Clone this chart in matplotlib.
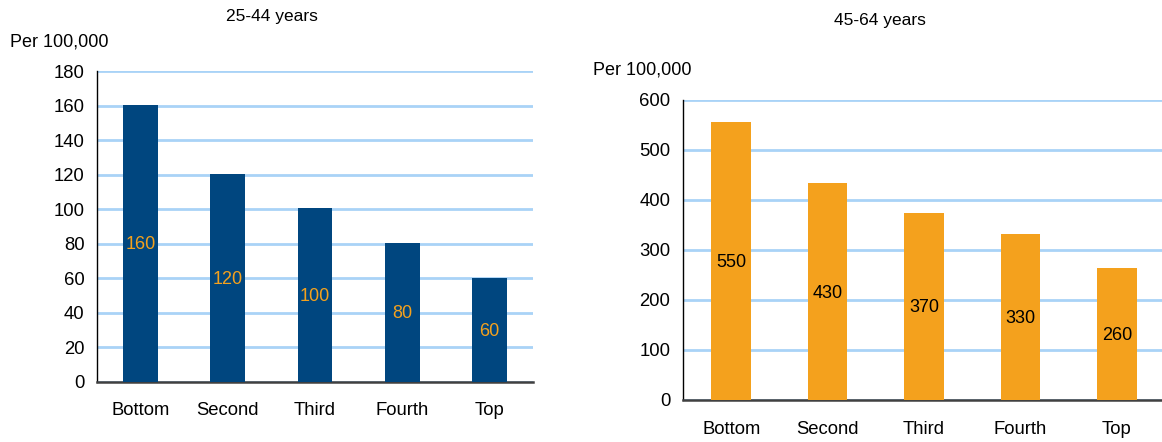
import matplotlib.pyplot as plt

plt.rcParams['font.family'] = ['Liberation Sans', 'DejaVu Sans']

categories = ['Bottom', 'Second', 'Third', 'Fourth', 'Top']

# 25-44 years
young_values = [160.5, 120.5, 100.5, 80.2, 60]
young_labels = ['160', '120', '100', '80', '60']
young_ticks = [0, 20, 40, 60, 80, 100, 120, 140, 160, 180]

# 45-64 years
older_values = [556, 434, 374, 332, 264]
older_labels = ['550', '430', '370', '330', '260']
older_ticks = [0, 100, 200, 300, 400, 500, 600]

BLUE = '#00467F'
ORANGE = '#F4A11D'
GRID = '#A9D3F7'

fig = plt.figure(figsize=(11.62, 4.42), dpi=100)
ax1 = fig.add_axes([97 / 1162, 1 - 381.5 / 442, 436 / 1162, 310.5 / 442])
ax2 = fig.add_axes([683 / 1162, 1 - 400 / 442, 482 / 1162, 300 / 442])


def draw_panel(ax, values, labels, ticks, bar_color, text_color, width):
    x = range(len(categories))
    ax.bar(x, values, width=width, color=bar_color, zorder=3)
    for xi, v, lab in zip(x, values, labels):
        # labels sit a touch below the bar's midpoint
        ax.text(xi, v / 2 - ticks[-1] * 0.005, lab, ha='center', va='center',
                fontsize=13, color=text_color, zorder=4)
    ax.set_xlim(-0.5, 4.5)
    ax.set_ylim(ticks[0], ticks[-1])
    ax.set_yticks(ticks)
    ax.set_xticks(list(x))
    ax.set_xticklabels(categories)
    ax.yaxis.grid(True, color=GRID, linewidth=2, zorder=0)
    ax.set_axisbelow(True)
    for side in ['top', 'right']:
        ax.spines[side].set_visible(False)
    ax.spines['left'].set_color('black')
    ax.spines['left'].set_linewidth(1)
    ax.spines['bottom'].set_color('#404040')
    ax.spines['bottom'].set_linewidth(1.8)
    ax.tick_params(axis='both', length=0, labelsize=13.3)
    ax.tick_params(axis='x', pad=15)
    ax.tick_params(axis='y', pad=9)


draw_panel(ax1, young_values, young_labels, young_ticks, BLUE, ORANGE, 0.4)
draw_panel(ax2, older_values, older_labels, older_ticks, ORANGE, 'black', 0.41)

fig.text(272 / 1162, 1 - 17 / 442, '25-44 years', ha='center', va='center', fontsize=12.5)
fig.text(10 / 1162, 1 - 42 / 442, 'Per 100,000', ha='left', va='center', fontsize=13)
fig.text(880 / 1162, 1 - 20 / 442, '45-64 years', ha='center', va='center', fontsize=12.5)
fig.text(593 / 1162, 1 - 70 / 442, 'Per 100,000', ha='left', va='center', fontsize=13)

fig.savefig('out.png', dpi=100, facecolor='white')
